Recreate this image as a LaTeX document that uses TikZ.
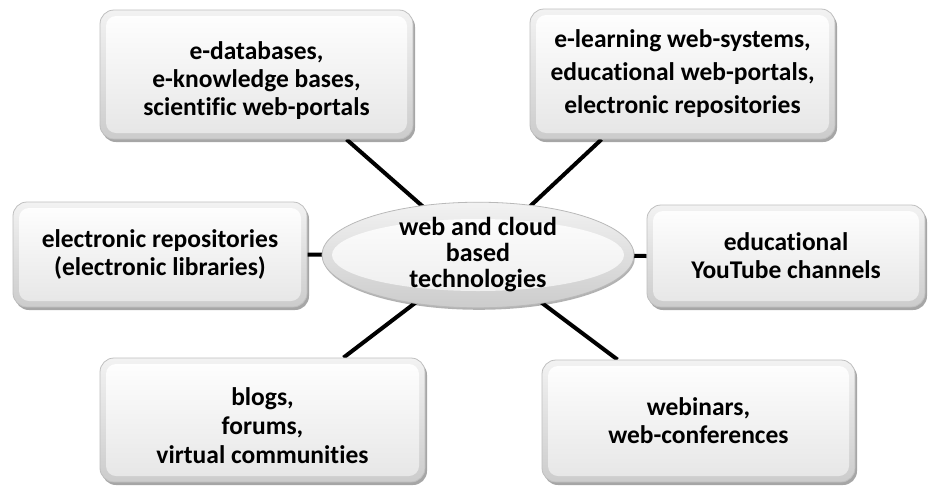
\documentclass[tikz,border=0pt]{standalone}
\usepackage{fontspec}
\setmainfont[Ligatures=NoCommon]{Carlito}
\usetikzlibrary{shadows,shapes.geometric}
\pgfdeclarelayer{bg}
\pgfsetlayers{bg,main}
\tikzset{
  box/.style={rounded corners=14pt, draw=gray!50, line width=0.8pt,
    top color=gray!10, bottom color=gray!40,
    drop shadow={shadow xshift=2pt, shadow yshift=-3pt, opacity=0.35, fill=black},
    align=center, inner sep=0pt,
    font=\fontsize{25.5}{28}\selectfont\bfseries,
    path picture={\shade[top color=white, bottom color=gray!20, rounded corners=10pt]
      ([shift={(6pt,-6pt)}]path picture bounding box.north west) rectangle
      ([shift={(-6pt,6pt)}]path picture bounding box.south east);}},
  hub/.style={ellipse, draw=gray!55, line width=0.8pt, inner sep=0pt,
    top color=gray!10, bottom color=gray!40,
    drop shadow={shadow xshift=1pt, shadow yshift=-2pt, opacity=0.3, fill=black},
    align=center, font=\fontsize{26}{26}\selectfont\bfseries,
    path picture={\shade[top color=white, bottom color=gray!15]
      (path picture bounding box.center) ellipse (146pt and 36pt);}},
  link/.style={line width=4pt, black},
}
\begin{document}
\begin{tikzpicture}[x=1pt,y=-1pt]
\useasboundingbox (0,0) rectangle (934,485);
\node[box, minimum width=313pt, minimum height=129pt] (b1) at (256.5,74.5)
  {\rule{0pt}{30pt}e-databases,\\e-knowledge bases,\\scientific web-portals};
\node[box, minimum width=305pt, minimum height=130pt, font=\fontsize{25.5}{33}\selectfont\bfseries] (b2) at (682.5,74)
  {e-learning web-systems,\\educational web-portals,\\electronic repositories};
\node[box, minimum width=294pt, minimum height=105pt] (b3) at (160,254.5)
  {electronic repositories\\(electronic libraries)};
\node[box, minimum width=278pt, minimum height=102pt] (b4) at (786,256)
  {educational\\YouTube channels};
\node[box, minimum width=325pt, minimum height=124pt, font=\fontsize{25.5}{29}\selectfont\bfseries] (b5) at (262.5,420)
  {\rule{0pt}{30pt}blogs,\\forums,\\virtual communities};
\node[box, minimum width=313pt, minimum height=122pt] (b6) at (698.5,421)
  {webinars,\\web-conferences};
\node[hub, minimum width=312pt, minimum height=94pt] (c) at (478,255)
  {web and cloud\\based\\technologies};
\begin{pgfonlayer}{bg}
\draw[link] (c.center) -- ([xshift=90pt]b1.south);
\draw[link] (c.center) -- ([xshift=-81pt]b2.south);
\draw[link] (c.center) -- (b3.east);
\draw[link] (c.center) -- (b4.west);
\draw[link] (c.center) -- ([xshift=81pt]b5.north);
\draw[link] (c.center) -- ([xshift=-81pt]b6.north);
\end{pgfonlayer}
\end{tikzpicture}
\end{document}
